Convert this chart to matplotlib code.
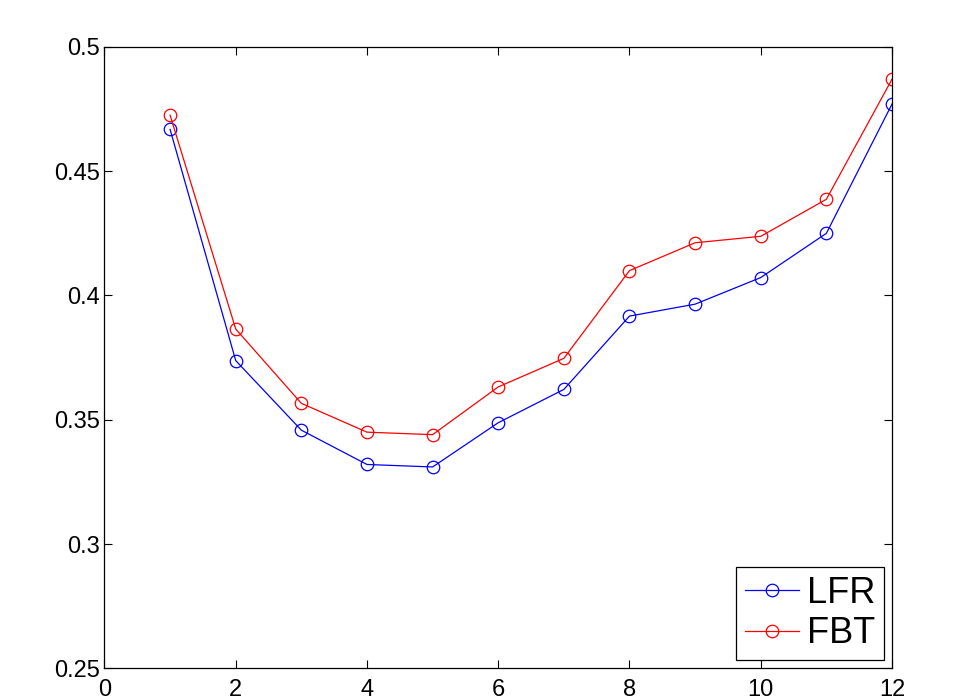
import matplotlib
matplotlib.use("Agg")
import matplotlib.pyplot as plt

x = [1, 2, 3, 4, 5, 6, 7, 8, 9, 10, 11, 12]
lfr = [0.4668, 0.3738, 0.3458, 0.3320, 0.3310, 0.3488, 0.3622, 0.3917, 0.3965, 0.4072, 0.4250, 0.4770]
fbt = [0.4725, 0.3865, 0.3566, 0.3450, 0.3440, 0.3632, 0.3747, 0.4100, 0.4212, 0.4238, 0.4387, 0.4870]
xticks = [0, 2, 4, 6, 8, 10, 12]
yticks = [0.25, 0.3, 0.35, 0.4, 0.45, 0.5]
ytick_labels = ["0.25", "0.3", "0.35", "0.4", "0.45", "0.5"]

plt.rcParams['font.family'] = ['Liberation Sans', 'DejaVu Sans']
fig = plt.figure(figsize=(9.61, 7.0), dpi=100)
ax = fig.add_axes([0.1087, 0.0453, 0.8195, 0.8877])
ax.plot(x, lfr, color='blue', marker='o', markersize=9, markerfacecolor='none', linewidth=0.9, markeredgewidth=0.9, label='LFR')
ax.plot(x, fbt, color='red', marker='o', markersize=9, markerfacecolor='none', linewidth=0.9, markeredgewidth=0.9, label='FBT')
ax.set_xlim(0, 12)
ax.set_ylim(0.25, 0.5)
ax.set_xticks(xticks)
ax.set_yticks(yticks)
ax.set_yticklabels(ytick_labels)
ax.tick_params(direction='in', length=6, labelsize=17, top=True, right=True, width=0.8)
ax.tick_params(axis='x', pad=8)
for s in ax.spines.values():
    s.set_linewidth(0.9)
leg = ax.legend(loc='lower right', fontsize=26, fancybox=False, framealpha=1, edgecolor='black',
                handlelength=1.5, borderaxespad=0.22, labelspacing=0.15, handletextpad=0.2, borderpad=0.25)
leg.get_frame().set_linewidth(0.9)
fig.savefig("out.png", dpi=100)
